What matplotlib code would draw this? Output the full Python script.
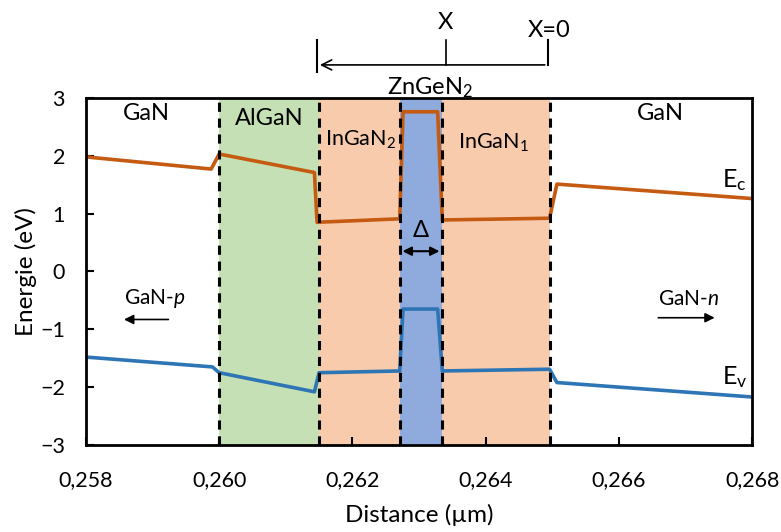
import matplotlib.pyplot as plt

plt.rcParams['font.family'] = ['Lato', 'DejaVu Sans']
plt.rcParams['mathtext.fontset'] = 'custom'
plt.rcParams['mathtext.rm'] = 'Lato'
plt.rcParams['mathtext.it'] = 'Lato:italic'

# band edges (distance in um, energy in eV)
ec_x = [0.2580, 0.25988, 0.26000, 0.26143, 0.26147, 0.26271, 0.26276, 0.26328, 0.26335, 0.26496, 0.26507, 0.2680]
ec_y = [1.98, 1.77, 2.03, 1.71, 0.85, 0.91, 2.76, 2.76, 0.89, 0.92, 1.51, 1.26]
ev_x = [0.2580, 0.25990, 0.26000, 0.26143, 0.26150, 0.26271, 0.26276, 0.26328, 0.26335, 0.26496, 0.26507, 0.2680]
ev_y = [-1.48, -1.65, -1.75, -2.08, -1.75, -1.72, -0.65, -0.65, -1.72, -1.69, -1.92, -2.17]

# layer boundaries
bounds = [0.2600, 0.26150, 0.26271, 0.26335, 0.26496]
layer_colors = ['#c5e0b4', '#f8cbad', '#8faadc', '#f8cbad']

xticks = [0.258, 0.260, 0.262, 0.264, 0.266, 0.268]
yticks = [-3, -2, -1, 0, 1, 2, 3]

fig = plt.figure(figsize=(7.81, 5.32), dpi=100)
ax = fig.add_axes([0.110, 0.1635, 0.853, 0.6525])

for i in range(4):
    ax.axvspan(bounds[i], bounds[i + 1], color=layer_colors[i], lw=0, zorder=0)
for b in bounds:
    ax.axvline(b, color='black', ls=(0, (3, 2.2)), lw=2.2, zorder=3)

ax.plot(ec_x, ec_y, color='#c55a11', lw=2.6, zorder=2)
ax.plot(ev_x, ev_y, color='#2e75b6', lw=2.6, zorder=2)

ax.set_xlim(0.258, 0.268)
ax.set_ylim(-3, 3)
ax.set_xticks(xticks)
ax.set_xticklabels([f'{t:.3f}'.replace('.', ',') for t in xticks])
ax.set_yticks(yticks)
ax.tick_params(direction='in', length=6, width=1.5, labelsize=15.5)
ax.tick_params(axis='x', pad=18)
ax.tick_params(axis='y', pad=15)
for s in ax.spines.values():
    s.set_linewidth(2)
ax.set_xlabel('Distance (µm)', fontsize=17.5, labelpad=10)
ax.set_ylabel('Energie (eV)', fontsize=17.5, labelpad=2)

# layer names
ax.text(0.25891, 2.73, 'GaN', fontsize=17, ha='center', va='center')
ax.text(0.26075, 2.65, 'AlGaN', fontsize=17, ha='center', va='center')
ax.text(0.26212, 2.27, 'InGaN$_2$', fontsize=15.5, ha='center', va='center')
ax.text(0.26412, 2.23, 'InGaN$_1$', fontsize=15.5, ha='center', va='center')
ax.text(0.26662, 2.73, 'GaN', fontsize=17, ha='center', va='center')
ax.text(0.26316, 3.17, 'ZnGeN$_2$', fontsize=17, ha='center', va='center', clip_on=False)
ax.text(0.26774, 1.58, 'E$_\\mathregular{c}$', fontsize=18, ha='center', va='center')
ax.text(0.26774, -1.83, 'E$_\\mathregular{v}$', fontsize=18, ha='center', va='center')

# carrier sides
ax.text(0.25903, -0.47, 'GaN-$p$', fontsize=15, ha='center', va='center')
ax.annotate('', xy=(0.25853, -0.83), xytext=(0.25928, -0.83),
            arrowprops=dict(arrowstyle='-|>', color='black', lw=1.2, mutation_scale=14))
ax.text(0.26704, -0.47, 'GaN-$n$', fontsize=15, ha='center', va='center')
ax.annotate('', xy=(0.26748, -0.80), xytext=(0.26655, -0.80),
            arrowprops=dict(arrowstyle='-|>', color='black', lw=1.2, mutation_scale=14))

# delta width
ax.annotate('', xy=(0.26271, 0.35), xytext=(0.26335, 0.35),
            arrowprops=dict(arrowstyle='<|-|>', color='black', lw=1.5, mutation_scale=13), zorder=4)
ax.text(0.26303, 0.71, 'Δ', fontsize=17, ha='center', va='center')

# X axis scale above the plot
ax.annotate('', xy=(0.26147, 3.57), xytext=(0.26493, 3.57), annotation_clip=False,
            arrowprops=dict(arrowstyle='->', color='black', lw=1.2, mutation_scale=18))
ax.plot([0.26147, 0.26147], [3.45, 4.0], color='black', lw=1.5, clip_on=False)
ax.plot([0.2634, 0.2634], [3.57, 4.0], color='black', lw=1.2, clip_on=False)
ax.plot([0.26493, 0.26493], [3.57, 4.0], color='black', lw=1.5, clip_on=False)
ax.text(0.2634, 4.3, 'X', fontsize=17, ha='center', va='center')
ax.text(0.26496, 4.17, 'X=0', fontsize=17, ha='center', va='center')

fig.savefig('out.png', dpi=100)
